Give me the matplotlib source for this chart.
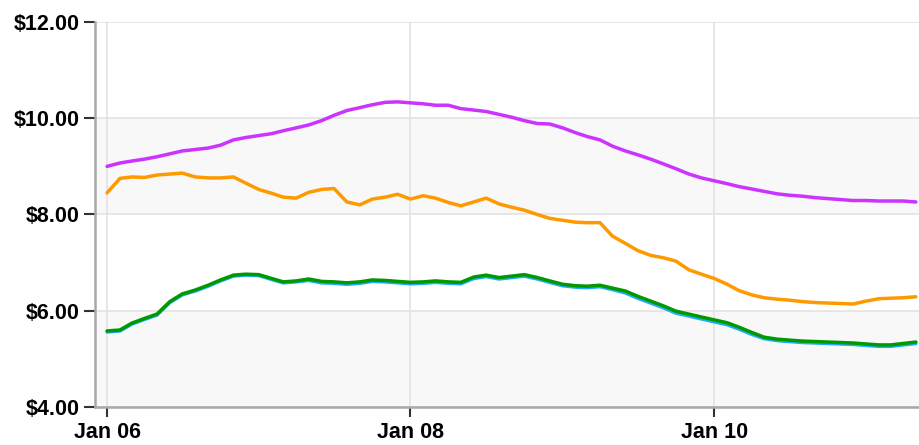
import numpy as np
import matplotlib
matplotlib.use("Agg")
import matplotlib.pyplot as plt
import datetime as dt

# monthly values, Jan 2006 .. May 2011
n_months = 65
months = [dt.date(2006 + (i // 12), i % 12 + 1, 1) for i in range(n_months)]

purple = [9.00, 9.07, 9.11, 9.15, 9.20, 9.26, 9.32, 9.35, 9.38, 9.44, 9.55, 9.60,
          9.64, 9.68, 9.74, 9.80, 9.86, 9.95, 10.06, 10.16, 10.22, 10.28, 10.33, 10.34,
          10.32, 10.30, 10.27, 10.27, 10.20, 10.17, 10.14, 10.08, 10.02, 9.95, 9.89, 9.88,
          9.80, 9.70, 9.62, 9.55, 9.42, 9.32, 9.24, 9.15, 9.05, 8.95, 8.84, 8.76,
          8.70, 8.64, 8.58, 8.53, 8.48, 8.43, 8.40, 8.38, 8.35, 8.33, 8.31, 8.29,
          8.29, 8.28, 8.28, 8.28, 8.26]

orange = [8.45, 8.75, 8.78, 8.77, 8.82, 8.84, 8.86, 8.78, 8.76, 8.76, 8.78, 8.65,
          8.52, 8.44, 8.36, 8.34, 8.46, 8.52, 8.54, 8.26, 8.20, 8.32, 8.36, 8.42,
          8.32, 8.39, 8.34, 8.25, 8.18, 8.26, 8.34, 8.22, 8.15, 8.09, 8.00, 7.92,
          7.88, 7.84, 7.83, 7.83, 7.55, 7.40, 7.25, 7.15, 7.10, 7.03, 6.85, 6.76,
          6.67, 6.55, 6.42, 6.33, 6.27, 6.24, 6.22, 6.19, 6.17, 6.16, 6.15, 6.14,
          6.20, 6.25, 6.26, 6.27, 6.29]

blue = [5.56, 5.58, 5.72, 5.82, 5.91, 6.17, 6.33, 6.41, 6.51, 6.62, 6.72, 6.74,
        6.73, 6.65, 6.58, 6.60, 6.63, 6.58, 6.57, 6.55, 6.57, 6.61, 6.60, 6.58,
        6.56, 6.57, 6.59, 6.57, 6.56, 6.67, 6.71, 6.66, 6.69, 6.72, 6.66, 6.59,
        6.52, 6.49, 6.48, 6.50, 6.44, 6.37, 6.26, 6.16, 6.06, 5.95, 5.89, 5.83,
        5.77, 5.71, 5.62, 5.51, 5.42, 5.38, 5.36, 5.34, 5.33, 5.32, 5.31, 5.30,
        5.28, 5.26, 5.26, 5.29, 5.32]

green = [5.58, 5.60, 5.74, 5.84, 5.93, 6.19, 6.35, 6.43, 6.53, 6.64, 6.74, 6.76,
         6.75, 6.67, 6.60, 6.62, 6.66, 6.61, 6.60, 6.58, 6.60, 6.64, 6.63, 6.61,
         6.59, 6.60, 6.62, 6.60, 6.59, 6.70, 6.74, 6.69, 6.72, 6.75, 6.69, 6.62,
         6.55, 6.52, 6.51, 6.53, 6.47, 6.41, 6.30, 6.20, 6.10, 5.99, 5.93, 5.87,
         5.81, 5.75, 5.66, 5.55, 5.45, 5.41, 5.39, 5.37, 5.36, 5.35, 5.34, 5.33,
         5.31, 5.29, 5.29, 5.32, 5.35]

y_ticks = [4, 6, 8, 10, 12]
x_ticks = [dt.date(2006, 1, 1), dt.date(2008, 1, 1), dt.date(2010, 1, 1)]
x_labels = ["Jan 06", "Jan 08", "Jan 10"]

plt.rcParams['font.family'] = ['Liberation Sans', 'DejaVu Sans']

fig = plt.figure(figsize=(9.2, 4.45), dpi=100)
ax = fig.add_axes([0.1033, 0.0854, 0.8967, 0.8652])

# alternating bands
ax.axhspan(4, 6, color="#f8f8f8", zorder=0, lw=0)
ax.axhspan(8, 10, color="#f8f8f8", zorder=0, lw=0)

kw = dict(lw=2.5, solid_joinstyle="round", solid_capstyle="round")
ax.plot(months, purple, color="#cc33ff", zorder=3, **kw)
ax.plot(months, orange, color="#ff9900", zorder=3, **kw)
ax.plot(months, blue, color="#22aaff", zorder=3, **kw)
ax.plot(months, green, color="#009900", zorder=4, **kw)

ax.set_ylim(4, 12)
ax.set_xlim(dt.date(2005, 12, 3), dt.date(2011, 5, 11))
ax.set_yticks(y_ticks)
ax.set_yticklabels(["$%.2f" % v for v in y_ticks], fontweight="bold", fontsize=15.5)
ax.set_xticks(x_ticks)
ax.set_xticklabels(x_labels, fontweight="bold", fontsize=15.5)

ax.grid(True, color="#e3e3e3", lw=1.2, zorder=1)
ax.set_axisbelow(True)

for s in ["top", "right"]:
    ax.spines[s].set_visible(False)
for s in ["left", "bottom"]:
    ax.spines[s].set_color("#a8a8a8")
    ax.spines[s].set_linewidth(1.8)

ax.tick_params(axis="y", length=8, width=1.5, color="#333333", pad=3)
ax.tick_params(axis="x", length=7, width=1.5, color="#333333", pad=4)

fig.savefig("out.png", dpi=100)
